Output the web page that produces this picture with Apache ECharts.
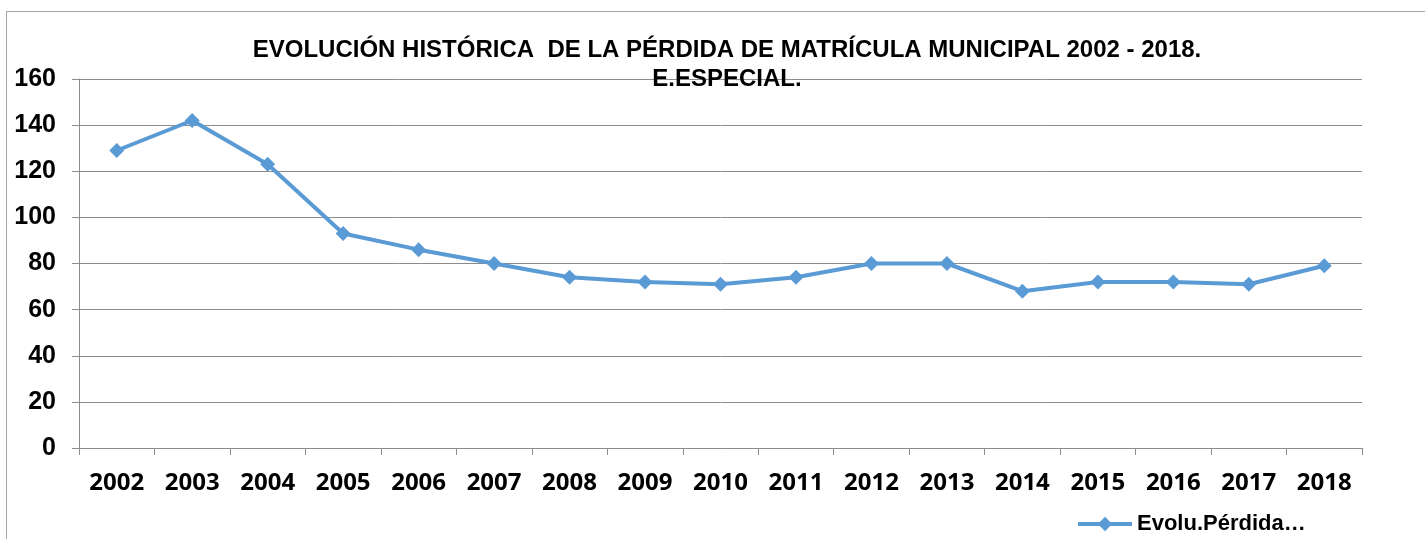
<!DOCTYPE html>
<html>
<head>
<meta charset="utf-8">
<script src="https://cdn.jsdelivr.net/npm/echarts@6/dist/echarts.min.js"></script>
<style>
  html, body { margin: 0; padding: 0; background: #fff; }
  #frame { position: absolute; left: 6px; top: 11px; width: 1500px; height: 600px;
           border-left: 1px solid #a6a6a6; border-top: 1px solid #a6a6a6; }
  #main { position: absolute; left: 0; top: 0; width: 1425px; height: 539px; }
</style>
</head>
<body>
<div id="frame"></div>
<div id="main"></div>
<script>
// datos del gráfico
var years = ['2002', '2003', '2004', '2005', '2006', '2007', '2008', '2009', '2010',
             '2011', '2012', '2013', '2014', '2015', '2016', '2017', '2018'];
var perdida = [129, 142, 123, 93, 86, 80, 74, 72, 71, 74, 80, 80, 68, 72, 72, 71, 79];
var seriesName = 'Evolu.Pérdida…';

var myChart = echarts.init(document.getElementById('main'));
var option = {
  animation: false,
  title: {
    text: 'EVOLUCIÓN HISTÓRICA  DE LA PÉRDIDA DE MATRÍCULA MUNICIPAL 2002 - 2018.\nE.ESPECIAL.',
    left: 722,
    top: 31,
    textAlign: 'center',
    textStyle: {
      fontFamily: 'Liberation Sans, Arial, sans-serif',
      fontSize: 24,
      fontWeight: 'bold',
      color: '#000',
      lineHeight: 29
    }
  },
  legend: {
    data: [seriesName],
    left: 1071,
    top: 508,
    itemWidth: 54,
    itemHeight: 18,
    itemGap: 6,
    lineStyle: { width: 4 },
    textStyle: {
      fontFamily: 'Liberation Sans, Arial, sans-serif',
      fontSize: 22,
      fontWeight: 'bold',
      color: '#000'
    }
  },
  grid: { left: 79, right: 63, top: 79, bottom: 91, containLabel: false },
  xAxis: {
    type: 'category',
    data: years,
    boundaryGap: true,
    axisLine: { lineStyle: { color: '#8c8c8c', width: 1 } },
    axisTick: { show: true, length: 7, lineStyle: { color: '#8c8c8c' } },
    axisLabel: {
      margin: 23,
      fontFamily: 'Open Sans, sans-serif',
      fontSize: 24,
      fontWeight: 'bold',
      color: '#000'
    }
  },
  yAxis: {
    type: 'value',
    min: 0,
    max: 160,
    interval: 20,
    axisLine: { show: true, lineStyle: { color: '#8c8c8c', width: 1 } },
    axisTick: { show: true, length: 7, lineStyle: { color: '#8c8c8c' } },
    splitLine: { lineStyle: { color: '#8c8c8c', width: 1 } },
    axisLabel: {
      margin: 23,
      fontFamily: 'Liberation Sans, Arial, sans-serif',
      fontSize: 25,
      fontWeight: 'bold',
      color: '#000'
    }
  },
  series: [{
    name: seriesName,
    type: 'line',
    data: perdida,
    symbol: 'diamond',
    symbolSize: 15,
    lineStyle: { color: '#5b9bd5', width: 4 },
    itemStyle: { color: '#5b9bd5' }
  }]
};
myChart.setOption(option);
</script>
</body>
</html>
